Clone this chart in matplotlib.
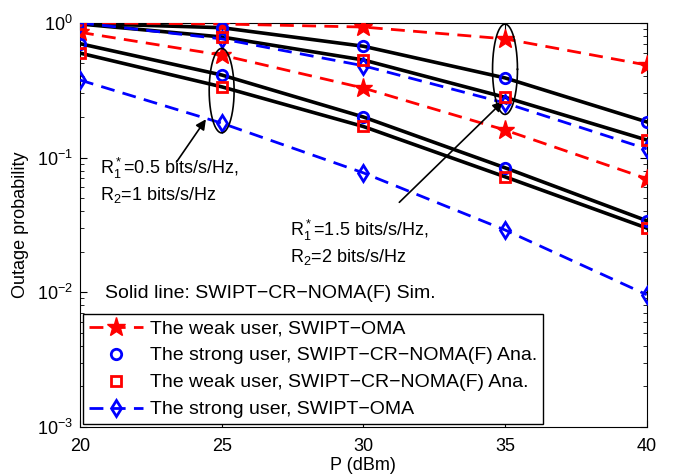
import numpy as np
import matplotlib.pyplot as plt

plt.rcParams['font.family'] = ['Liberation Sans', 'DejaVu Sans']
plt.rcParams['mathtext.fontset'] = 'custom'
plt.rcParams['mathtext.rm'] = 'Liberation Sans'

# Transmit power (dBm)
P = [20, 25, 30, 35, 40]

# R1*=0.5, R2=1 bits/s/Hz
weak_oma_a = [0.85, 0.576, 0.328, 0.16, 0.0697]
strong_noma_a = [0.70, 0.41, 0.20, 0.084, 0.034]
weak_noma_a = [0.596, 0.335, 0.17, 0.072, 0.030]
strong_oma_a = [0.376, 0.18, 0.077, 0.029, 0.0096]
strong_sim_a = [0.70, 0.41, 0.20, 0.084, 0.034]
weak_sim_a = [0.596, 0.335, 0.17, 0.072, 0.030]

# R1*=1.5, R2=2 bits/s/Hz
weak_oma_b = [1.0, 0.98, 0.93, 0.76, 0.486]
strong_noma_b = [0.99, 0.92, 0.67, 0.39, 0.184]
weak_noma_b = [0.98, 0.785, 0.53, 0.28, 0.135]
strong_oma_b = [1.0, 0.76, 0.48, 0.254, 0.116]
strong_sim_b = [0.99, 0.92, 0.67, 0.39, 0.184]
weak_sim_b = [0.98, 0.785, 0.53, 0.28, 0.135]

fig = plt.figure(figsize=(6.8, 4.75), dpi=100)
ax = fig.add_axes([0.1176, 0.101, 0.8334, 0.851])

dash = (5, 3)
# simulation (solid black)
for y in [strong_sim_a, weak_sim_a, strong_sim_b, weak_sim_b]:
    ax.plot(P, y, '-', color='k', lw=2.6, zorder=2)

# weak user OMA
ax.plot(P, weak_oma_a, '--', color='r', lw=2, dashes=dash, marker='*', ms=14,
        mec='r', mfc='r', label='The weak user, SWIPT\u2212OMA', zorder=3)
ax.plot(P, weak_oma_b, '--', color='r', lw=2, dashes=dash, marker='*', ms=14,
        mec='r', mfc='r', zorder=3)
# strong user NOMA analysis
ax.plot(P, strong_noma_a, 'o', color='b', ms=7.5, mfc='none', mew=2,
        label='The strong user, SWIPT\u2212CR\u2212NOMA(F) Ana.', zorder=4)
ax.plot(P, strong_noma_b, 'o', color='b', ms=7.5, mfc='none', mew=2, zorder=4)
# weak user NOMA analysis
ax.plot(P, weak_noma_a, 's', color='r', ms=6.5, mfc='none', mew=2,
        label='The weak user, SWIPT\u2212CR\u2212NOMA(F) Ana.', zorder=4)
ax.plot(P, weak_noma_b, 's', color='r', ms=6.5, mfc='none', mew=2, zorder=4)
# strong user OMA
ax.plot(P, strong_oma_a, '--', color='b', lw=2, dashes=dash, marker='d', ms=8.5,
        mfc='none', mew=2, label='The strong user, SWIPT\u2212OMA', zorder=3)
ax.plot(P, strong_oma_b, '--', color='b', lw=2, dashes=dash, marker='d', ms=8.5,
        mfc='none', mew=2, zorder=3)

ax.set_yscale('log')
ax.set_xlim(20, 40)
ax.set_ylim(1e-3, 1)
ax.set_xticks([20, 25, 30, 35, 40])
ax.tick_params(which='both', direction='in', top=True, right=True, labelsize=13)
ax.tick_params(which='major', length=5)
ax.tick_params(which='minor', length=3)
ax.tick_params(axis='x', pad=8)
ax.tick_params(axis='y', pad=5)
ax.set_xlabel('P (dBm)', fontsize=13, labelpad=1)
ax.set_ylabel('Outage probability', fontsize=13, labelpad=6)

# ellipses marking the two rate groups
t = np.linspace(0, 2 * np.pi, 200)
for xc, ylo, yhi in [(25, -0.817, -0.19), (35, -0.68, -0.01)]:
    ax.plot(xc + 0.44 * np.cos(t),
            10 ** ((ylo + yhi) / 2 + (yhi - ylo) / 2 * np.sin(t)),
            color='k', lw=1.2, zorder=5)

ax.annotate('', xy=(24.5, 0.2), xytext=(23.35, 0.089),
            arrowprops=dict(arrowstyle='-|>', color='k', lw=1.2,
                            mutation_scale=15))
ax.annotate('', xy=(35.0, 0.27), xytext=(31.2, 0.045),
            arrowprops=dict(arrowstyle='-|>', color='k', lw=1.2,
                            mutation_scale=15))

ax.text(20.7, 0.068, '$\\mathregular{R_1^*}$=0.5 bits/s/Hz,\n$\\mathregular{R_2}$=1 bits/s/Hz',
        fontsize=13, va='center', linespacing=1.25)
ax.text(27.4, 0.0235, '$\\mathregular{R_1^*}$=1.5 bits/s/Hz,\n$\\mathregular{R_2}$=2 bits/s/Hz',
        fontsize=13, va='center', linespacing=1.25)
ax.text(20.9, 0.0098, 'Solid line: SWIPT\u2212CR\u2212NOMA(F) Sim.', fontsize=14,
        va='center')

leg = ax.legend(loc='lower left', bbox_to_anchor=(0.005, 0.007), fontsize=14,
                handlelength=2.8, handletextpad=0.35, borderaxespad=0,
                fancybox=False, edgecolor='k', framealpha=1, labelspacing=0.48,
                borderpad=0.3)
leg.get_frame().set_linewidth(1)

fig.savefig('out.png', dpi=100)
